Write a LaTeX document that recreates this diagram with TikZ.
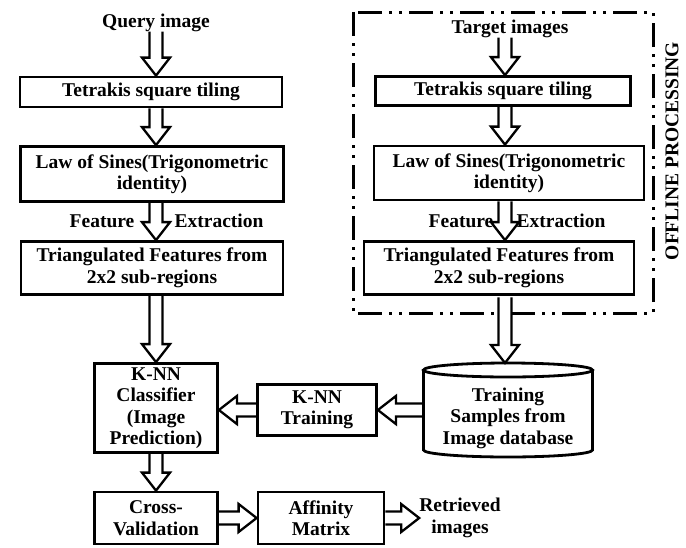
\documentclass[tikz,border=0pt]{standalone}
\usepackage{fontspec}
\setmainfont{Liberation Serif}
\usetikzlibrary{calc}
\newcommand\labelfont{\fontsize{19.5}{21.5}\selectfont\bfseries}

\tikzset{
  blk/.style={draw, line width=2.8pt, align=center, inner sep=0pt, font=\labelfont},
  txt/.style={align=center, inner sep=0pt, font=\labelfont},
  shaft/.style={draw, line width=2.3pt, line join=miter, miter limit=10},
  % hollow block arrow pointing down
  varrow/.style={shaft, to path={let \p1=(\tikztostart), \p2=(\tikztotarget) in
     (\x1-6.5pt,\y1) -- (\x1-6.5pt,\y2+18pt) -- (\x1-14pt,\y2+18pt) -- (\x1,\y2)
     -- (\x1+14pt,\y2+18pt) -- (\x1+6.5pt,\y2+18pt) -- (\x1+6.5pt,\y1)}},
  % hollow block arrow pointing right
  rarrow/.style={shaft, to path={let \p1=(\tikztostart), \p2=(\tikztotarget) in
     (\x1,\y1+6.5pt) -- (\x2-18pt,\y1+6.5pt) -- (\x2-18pt,\y1+14pt) -- (\x2,\y1)
     -- (\x2-18pt,\y1-14pt) -- (\x2-18pt,\y1-6.5pt) -- (\x1,\y1-6.5pt)}},
  % hollow block arrow pointing left
  larrow/.style={shaft, to path={let \p1=(\tikztostart), \p2=(\tikztotarget) in
     (\x1,\y1+6.5pt) -- (\x2+18pt,\y1+6.5pt) -- (\x2+18pt,\y1+14pt) -- (\x2,\y1)
     -- (\x2+18pt,\y1-14pt) -- (\x2+18pt,\y1-6.5pt) -- (\x1,\y1-6.5pt)}},
}

\begin{document}
\begin{tikzpicture}[x=1pt, y=-1pt]
\useasboundingbox (0,0) rectangle (686,547);

% column axes
\coordinate (lc) at (156,0);
\coordinate (rc) at (505,0);

% offline processing frame
\draw[line width=3pt, dash pattern=on 24pt off 7pt on 3pt off 7pt on 3pt off 7pt]
  (353,12) rectangle (653,313);
\node[txt, rotate=90] (off) at (672,151) {OFFLINE PROCESSING};

% query branch
\node[txt, anchor=base] (query) at (156,27) {Query image};
\node[blk, minimum width=262pt, minimum height=30pt] (t1) at (151,92) {Tetrakis square tiling};
\node[blk, minimum width=263pt, minimum height=55pt] (s1) at (152,174) {Law of Sines(Trigonometric\\identity)};
\node[blk, minimum width=262pt, minimum height=53pt] (f1) at (152,268) {Triangulated Features from\\2x2 sub-regions};
\node[txt, anchor=base] (fe1) at (102,227) {Feature};
\node[txt, anchor=base] (ex1) at (219,227) {Extraction};

% target branch
\node[txt, anchor=base] (target) at (510,33) {Target images};
\node[blk, minimum width=255pt, minimum height=29pt] (t2) at (503,91) {Tetrakis square tiling};
\node[blk, minimum width=270pt, minimum height=54pt] (s2) at (509,173) {Law of Sines(Trigonometric\\identity)};
\node[blk, minimum width=270pt, minimum height=53pt] (f2) at (499,268) {Triangulated Features from\\2x2 sub-regions};
\node[txt, anchor=base] (fe2) at (461,227) {Feature};
\node[txt, anchor=base] (ex2) at (561,227) {Extraction};

% classification stage
\node[blk, minimum width=123pt, minimum height=89pt] (kc) at (156,408) {K-NN\\Classifier\\(Image\\Prediction)};
\node[blk, minimum width=119pt, minimum height=51pt] (kt) at (317,410) {K-NN\\Training};
\node[blk, minimum width=123pt, minimum height=52pt] (cv) at (156,518) {Cross-\\Validation};
\node[blk, minimum width=126pt, minimum height=52pt] (am) at (321,518) {Affinity\\Matrix};
\node[txt] (ret) at (460,518) {Retrieved\\images};

% training database cylinder
\draw[line width=2.8pt] (508,370) ellipse [x radius=84.5, y radius=7];
\draw[line width=2.8pt] (423.5,370) -- (423.5,450)
  arc[start angle=180, end angle=0, x radius=84.5, y radius=7] -- (592.5,370);
\node[txt] (db) at (508,418) {Training\\Samples from\\Image database};
\coordinate (dbtop) at (505,363);
\coordinate (dbwest) at (423.5,410);

% connectors, query branch
\draw[varrow] (query.south -| lc) to (lc |- t1.north);
\draw[varrow] (lc |- t1.south) to (lc |- s1.north);
\draw[varrow] (lc |- s1.south) to (lc |- f1.north);
\draw[varrow] (lc |- f1.south) to (kc.north);
\draw[varrow] (kc.south) to (cv.north);

% connectors, target branch
\draw[varrow] (target.south -| rc) to (rc |- t2.north);
\draw[varrow] (rc |- t2.south) to (rc |- s2.north);
\draw[varrow] (rc |- s2.south) to (rc |- f2.north);
\coordinate (f2b) at ($(rc |- f2.south)+(0,1.4)$);
\draw[varrow, fill=white] (f2b) to (dbtop);

% horizontal connectors
\draw[larrow] (dbwest) to (kt.east);
\draw[larrow] (kt.west) to (kc.east);
\draw[rarrow] (cv.east) to (am.west);
\draw[rarrow] (am.east) to (ret.west);
\end{tikzpicture}
\end{document}
